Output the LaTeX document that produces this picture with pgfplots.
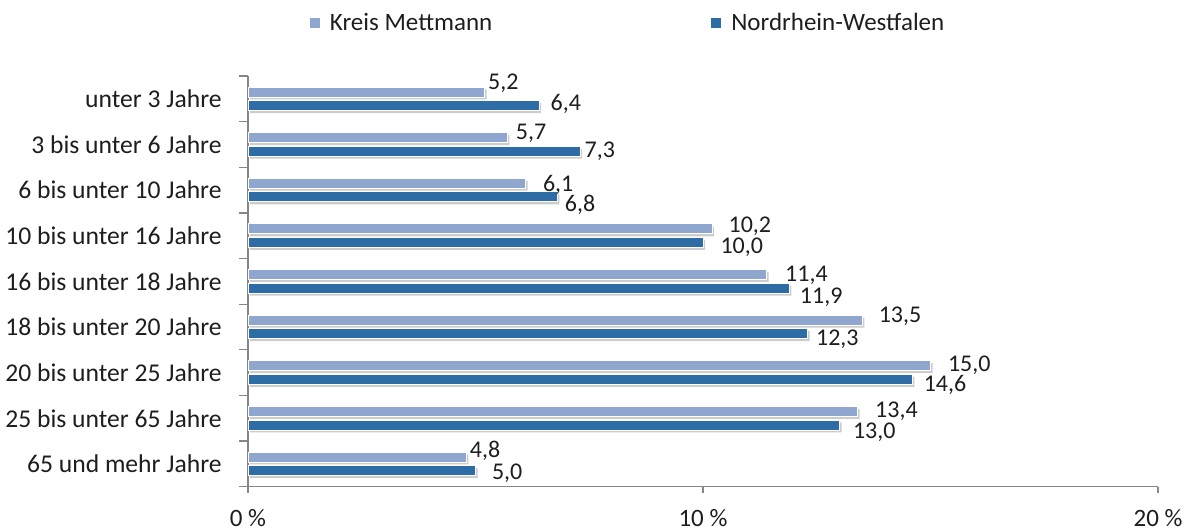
\documentclass[border=0pt]{standalone}
\usepackage{fontspec}
\setmainfont{Carlito}
\usepackage{pgfplots}
\pgfplotsset{compat=1.18}
\usepackage{pgfplotstable}
\definecolor{kreis}{RGB}{143,167,207}
\definecolor{nrw}{RGB}{46,108,166}
\definecolor{axisgray}{RGB}{134,134,134}
\definecolor{txt}{RGB}{30,30,30}

% pos: 8 = top row; ldx/ldy, ddx/ddy: label offsets in px (dy positive = down)
\pgfplotstableread{
pos light dark ldx ldy ddx ddy
8 5.2  6.4  3  -10  11 -3
7 5.7  7.3  8  -6   4  -1.5
6 6.1  6.8  17  1   7   7
5 10.2 10.0 16 -4   17  3.5
4 11.4 11.9 18 -0.5 10  8
3 13.5 12.3 16 -5   8   4
2 15.0 14.6 17 -1.5 11  5
1 13.4 13.0 17 -1.5 13  5.5
0 4.8  5.0  3  -7   16  1
}\agedata

\begin{document}
\fontsize{12.5}{15}\selectfont
\begin{tikzpicture}
\useasboundingbox (0,0) rectangle (596.5pt,265.5pt);
\begin{axis}[
  at={(124pt,22.15pt)}, anchor=south west,
  scale only axis, width=455pt, height=205.35pt,
  xbar, bar width=5pt,
  xmin=0, xmax=20, ymin=-0.5, ymax=8.5,
  axis x line*=bottom, axis y line*=left,
  axis line style={draw=axisgray, line width=0.65pt, -},
  major tick length=0pt, tick align=outside,
  xtick={0,10,20}, xticklabels={0 \%,10 \%,20 \%},
  ytick={0,...,8},
  yticklabels={65 und mehr Jahre,25 bis unter 65 Jahre,20 bis unter 25 Jahre,18 bis unter 20 Jahre,16 bis unter 18 Jahre,10 bis unter 16 Jahre,6 bis unter 10 Jahre,3 bis unter 6 Jahre,unter 3 Jahre},
  extra y ticks={-0.5,0.5,1.5,2.5,3.5,4.5,5.5,6.5,7.5,8.5}, extra y tick labels={},
  extra y tick style={major tick length=4.5pt, tick style={draw=axisgray, line width=0.65pt}},
  extra x ticks={0,10,20}, extra x tick labels={},
  extra x tick style={major tick length=3pt, tick style={draw=axisgray, line width=0.65pt}},
  xticklabel style={inner sep=0pt, anchor=north, yshift=-11pt, text=txt},
  yticklabel style={inner sep=0pt, anchor=east, xshift=-13pt, text=txt, font=\fontsize{12.8}{15}\selectfont},
  clip=false,
  point meta=x,
  legend image code/.code={\fill[#1, draw=none] (0pt,-2.5pt) rectangle (5pt,2.5pt);},
  legend style={at={(0.0681,1.1283)}, anchor=west, legend columns=2,
    draw=none, fill=none, inner sep=0pt, outer sep=0pt,
    nodes={inner sep=0pt, text=txt},
    /tikz/every even column/.append style={column sep=109.5pt},
    /tikz/every odd column/.append style={column sep=5pt}},
]
% shadows
\addplot[forget plot, fill=black, draw=none, fill opacity=0.2, bar shift=3.4pt, xshift=1pt, yshift=-1.2pt]
  table[x=light, y=pos] {\agedata};
\addplot[forget plot, fill=black, draw=none, fill opacity=0.2, bar shift=-3.4pt, xshift=1pt, yshift=-1.2pt]
  table[x=dark, y=pos] {\agedata};
% bars
\addplot[fill=kreis, draw=white, line width=0.5pt, bar shift=3.4pt,
  visualization depends on={\thisrow{ldx} \as \ddx},
  visualization depends on={\thisrow{ldy} \as \ddy},
  nodes near coords={\pgfmathprintnumber[fixed,zerofill,precision=1,use comma,assume math mode=true]{\pgfplotspointmeta}},
  every node near coord/.append style={anchor=base west, inner sep=0pt, text=txt, font=\fontsize{12}{14}\selectfont,
    xshift=0.5pt*\ddx, yshift=-0.5pt*(\ddy+7.5)}]
  table[x=light, y=pos] {\agedata};
\addlegendentry{Kreis Mettmann}
\addplot[fill=nrw, draw=white, line width=0.5pt, bar shift=-3.4pt,
  visualization depends on={\thisrow{ddx} \as \ddx},
  visualization depends on={\thisrow{ddy} \as \ddy},
  nodes near coords={\pgfmathprintnumber[fixed,zerofill,precision=1,use comma,assume math mode=true]{\pgfplotspointmeta}},
  every node near coord/.append style={anchor=base west, inner sep=0pt, text=txt, font=\fontsize{12}{14}\selectfont,
    xshift=0.5pt*\ddx, yshift=-0.5pt*(\ddy+7.5)}]
  table[x=dark, y=pos] {\agedata};
\addlegendentry{Nordrhein-Westfalen}
\end{axis}
\end{tikzpicture}
\end{document}
